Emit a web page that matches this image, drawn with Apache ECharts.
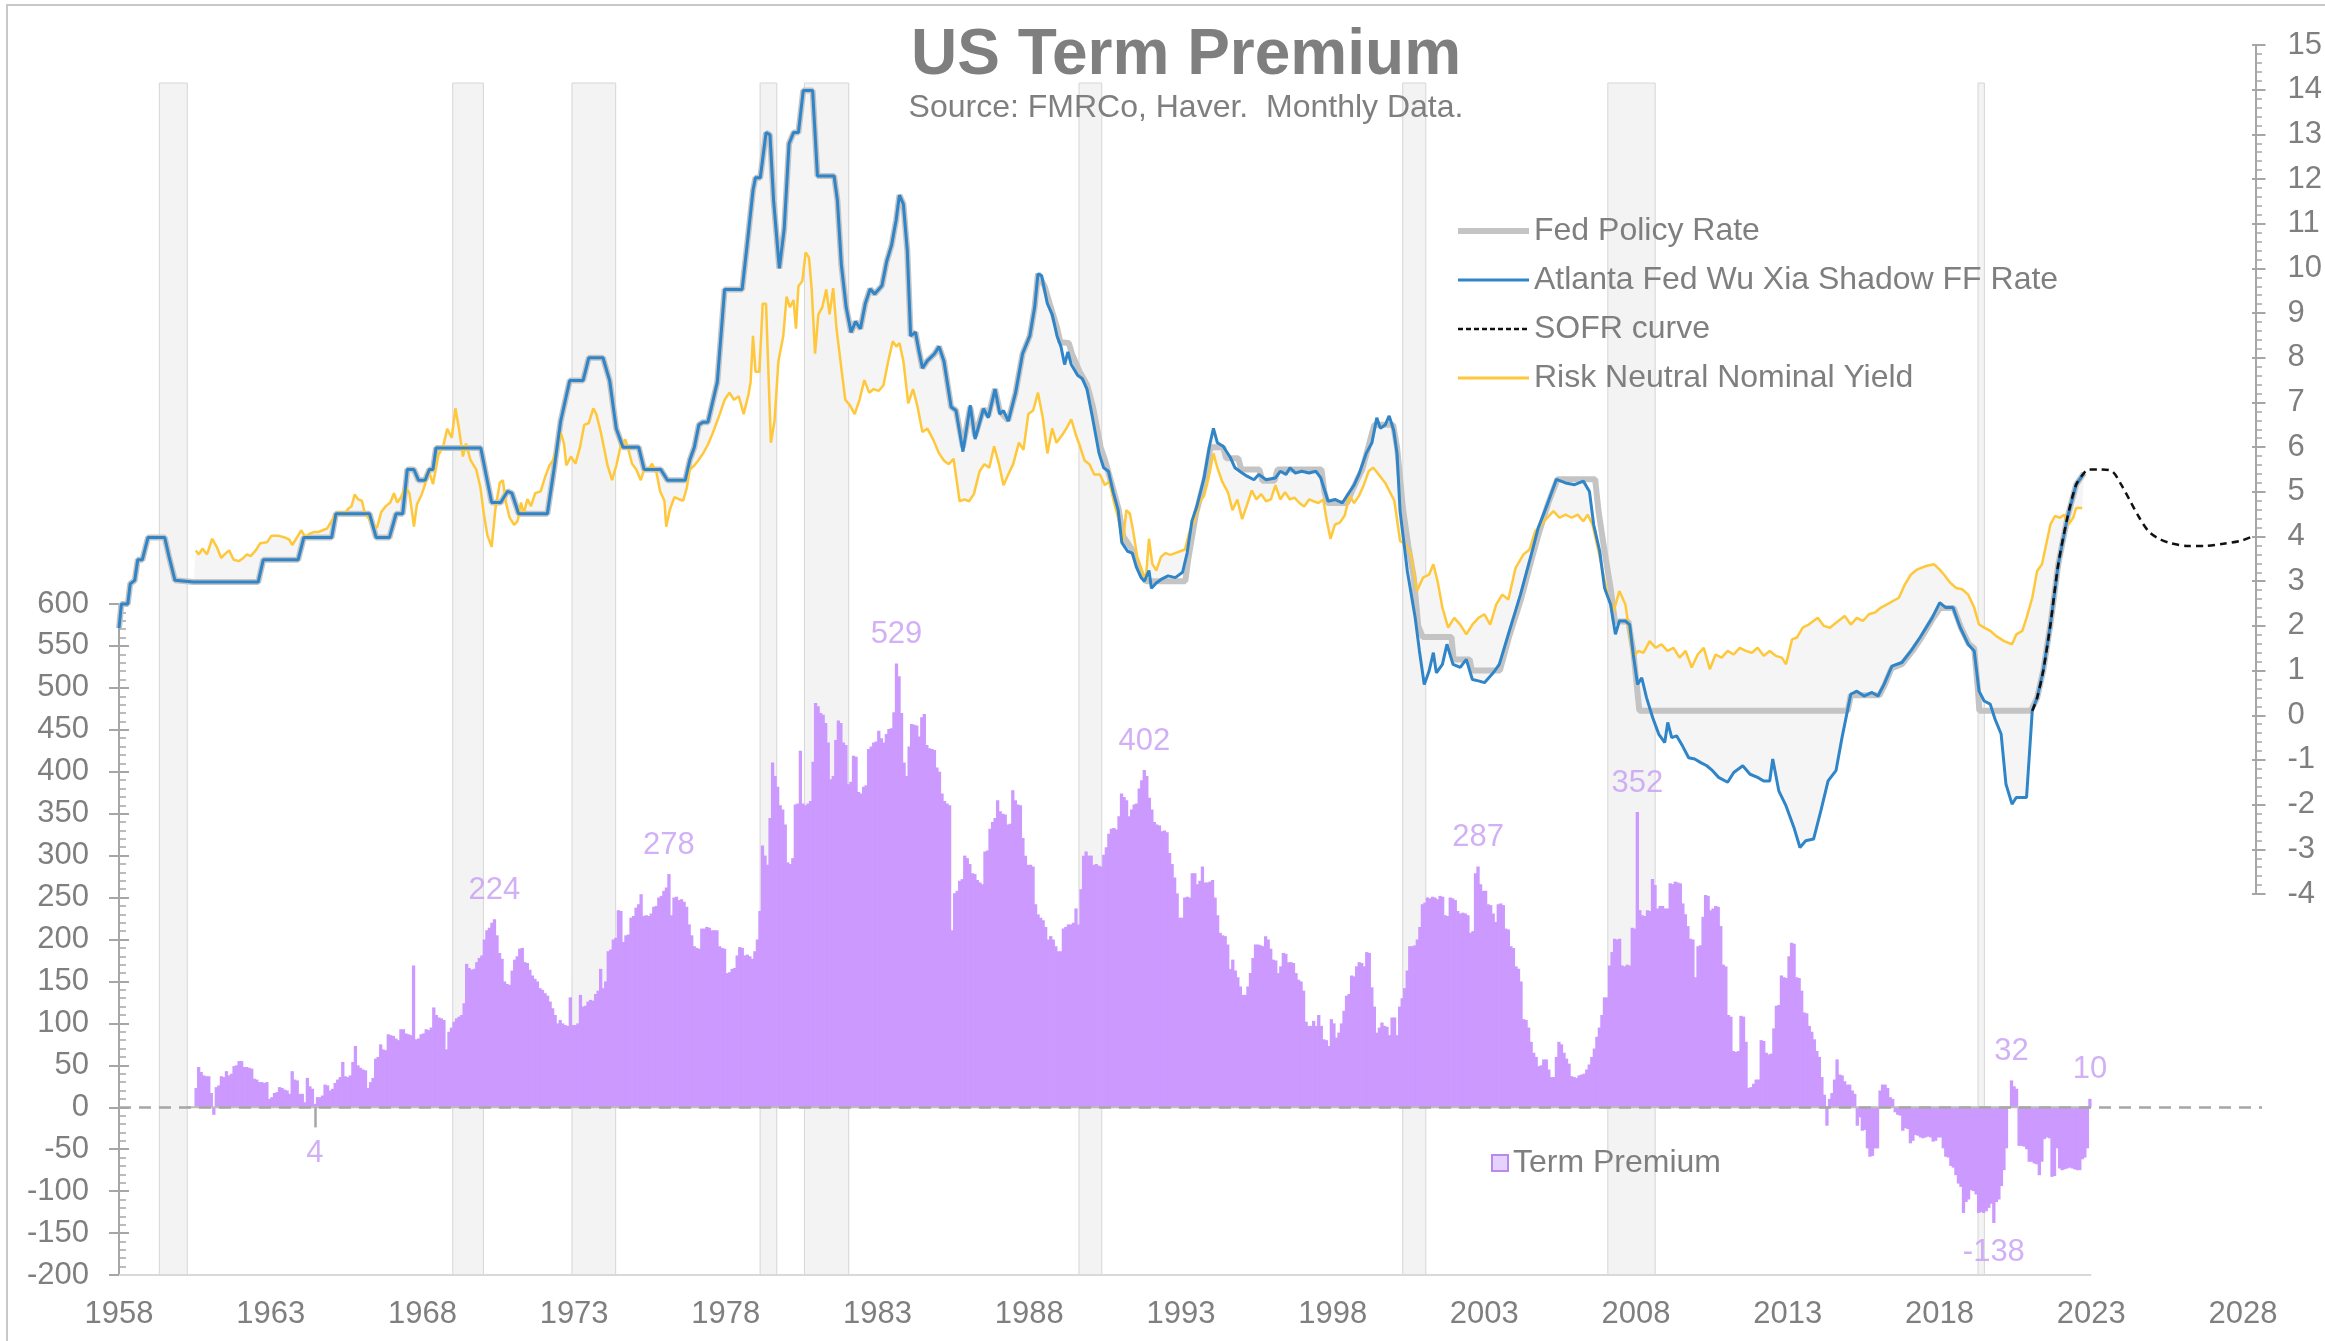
<!DOCTYPE html>
<html>
<head>
<meta charset="utf-8">
<script src="https://cdn.jsdelivr.net/npm/echarts@6/dist/echarts.min.js"></script>
<style>html,body{margin:0;padding:0;background:#fff}#chart{width:2325px;height:1341px}</style>
</head>
<body>
<div id="chart"></div>
<script>
// ---------------- axes / ticks ----------------
const X0 = 1958;                 // first year on the axis
const X_MAX = 70.63;             // axis span in years (to the right axis)
const yearTickLabels = [1958,1963,1968,1973,1978,1983,1988,1993,1998,2003,2008,2013,2018,2023,2028];
const rightAxisRange = [-4, 15, 1];
const leftAxisRange = [-200, 600, 50];
const barsAxisSpan = [1958, 2023];
const barsBaselineSpan = [1960.27, 2023.0];

// ---------------- recession bands ----------------
const recessionStarts = [1959.33, 1969.00, 1972.93, 1979.13, 1980.59, 1989.64, 2000.31, 2007.07, 2019.27];
const recessionEnds   = [1960.25, 1970.01, 1974.37, 1979.68, 1982.05, 1990.39, 2001.07, 2008.63, 2019.48];

// ---------------- term premium (bp), monthly from Jul 1960 ----------------
const termPremiumFirstYear = 1960;
const termPremiumFirstMonth = 7;
const termPremium = [
  23,48,42,38,37,37,                                   // 1960 Jul-Dec
  17,-9,24,26,37,36,43,38,40,49,50,55,                 // 1961
  55,48,48,47,46,34,33,30,30,29,30,10,                 // 1962
  12,17,18,24,23,21,20,16,43,33,32,16,                 // 1963
  16,6,35,25,22,4,12,12,14,27,26,20,                   // 1964
  22,29,33,36,54,37,36,38,54,73,50,47,                 // 1965
  45,44,23,30,35,58,60,75,69,68,87,86,                 // 1966
  85,82,80,93,93,88,87,86,169,81,82,87,                // 1967
  88,93,92,95,119,110,107,106,104,69,90,95,            // 1968
  102,106,108,110,124,171,166,164,165,173,178,181,     // 1969
  200,211,214,220,224,205,184,177,150,147,146,163,     // 1970
  176,180,189,190,173,172,164,157,153,150,142,140,     // 1971
  136,133,126,118,110,100,104,100,98,97,131,98,        // 1972
  98,100,134,120,121,126,128,127,135,139,165,142,      // 1973
  150,186,188,200,202,235,234,197,205,206,226,228,     // 1974
  238,242,254,228,229,228,231,239,240,250,252,258,     // 1975
  262,278,229,250,251,247,248,245,239,218,205,192,     // 1976
  190,189,213,213,215,214,211,211,211,192,190,189,     // 1977
  160,161,165,166,181,191,190,181,182,180,177,186,     // 1978
  200,234,312,300,289,345,411,395,382,360,355,337,     // 1979
  292,290,297,361,362,425,362,360,362,365,412,482,     // 1980
  478,470,468,458,435,391,395,438,461,458,435,432,     // 1981
  385,388,419,418,376,374,382,384,427,430,435,436,     // 1982
  449,440,435,445,451,452,471,529,514,470,411,395,     // 1983
  430,457,456,455,442,465,469,432,428,427,426,405,     // 1984
  400,374,365,362,360,211,255,258,270,272,300,297,     // 1985
  290,279,278,271,268,266,305,306,332,340,345,366,     // 1986
  353,350,349,337,338,378,366,361,360,321,300,289,     // 1987
  289,287,242,230,226,223,215,200,204,200,192,186,     // 1988
  186,213,215,218,218,220,237,218,260,300,305,300,     // 1989
  300,289,290,288,287,301,310,326,332,333,331,347,     // 1990
  374,370,366,347,355,361,362,380,390,402,395,369,     // 1991
  355,340,337,336,329,330,328,303,290,274,255,226,     // 1992
  226,250,251,250,279,279,266,270,287,268,268,269,     // 1993
  271,250,229,208,205,204,194,165,176,163,155,144,     // 1994
  134,134,144,160,178,194,194,193,192,204,200,189,     // 1995
  176,175,160,168,184,183,173,173,172,160,152,150,     // 1996
  139,102,97,97,103,97,110,97,81,80,73,105,            // 1997
  100,83,89,100,115,133,135,157,156,168,173,172,       // 1998
  168,185,184,143,120,89,95,101,97,96,86,107,          // 1999
  107,86,120,130,142,163,192,192,193,200,215,242,      // 2000
  244,250,249,251,250,248,252,251,229,228,250,249,     // 2001
  247,234,231,232,231,229,208,210,279,287,266,258,     // 2002
  258,242,241,231,221,242,243,241,213,212,192,190,     // 2003
  168,165,150,105,104,95,78,65,60,49,50,57,            // 2004
  57,45,36,36,60,78,75,65,58,52,37,36,                 // 2005
  35,38,39,40,45,51,60,70,84,95,110,131,               // 2006
  131,169,185,201,200,201,169,168,170,169,214,213,     // 2007
  352,235,229,228,235,234,272,265,237,240,240,237,     // 2008
  237,267,266,269,268,267,243,230,216,201,200,155,     // 2009
  192,193,227,253,252,235,237,240,239,216,170,168,     // 2010
  110,108,67,66,67,109,108,78,23,24,28,33,             // 2011
  33,80,79,65,63,64,94,121,122,157,155,154,            // 2012
  180,196,195,155,154,139,113,112,97,90,81,67,         // 2013
  60,36,15,-22,10,17,33,57,39,38,31,27,                // 2014
  27,20,16,-22,-12,-28,-27,-49,-59,-58,-49,-49,        // 2015
  20,27,27,23,12,10,-6,-9,-10,-28,-25,-26,             // 2016
  -43,-40,-33,-34,-36,-37,-36,-35,-36,-41,-40,-36,     // 2017
  -36,-49,-59,-60,-70,-72,-81,-91,-95,-126,-113,-110,  // 2018
  -99,-100,-104,-126,-125,-126,-124,-120,-115,-138,-113,-110, // 2019
  -94,-75,-49,-1,32,25,22,-46,-46,-47,-50,-65,         // 2020
  -65,-67,-68,-81,-65,-38,-36,-37,-83,-82,-49,-73,     // 2021
  -75,-74,-73,-72,-73,-74,-75,-75,-62,-60,-49,10       // 2022
];
const labelledMonths = ['1964-06','1970-05','1976-02','1983-08','1991-10','2002-10','2008-01','2019-10','2020-05','2022-12'];
const labelBelowMonths = ['1964-06','2019-10'];
const leaderMonths = ['1964-06'];

// ---------------- rates (%), [year, value] vertices ----------------
const shadowRate = [
[1958.0,1.95],[1958.08,2.49],[1958.29,2.49],[1958.37,2.94],[1958.52,3.02],[1958.62,3.48],[1958.77,3.48],[1958.96,3.98],[1959.51,3.98],[1959.65,3.56],[1959.85,3.02],[1960.46,2.98],[1962.6,2.98],[1962.77,3.48],[1963.92,3.48],[1964.11,3.98],[1965.03,3.98],[1965.17,4.51],[1966.28,4.51],[1966.5,3.98],[1966.94,3.98],[1967.16,4.51],[1967.38,4.51],[1967.53,5.5],[1967.75,5.5],[1967.9,5.26],[1968.12,5.26],[1968.26,5.5],[1968.38,5.5],[1968.48,5.98],[1969.96,5.98],[1970.1,5.5],[1970.32,4.76],[1970.62,4.76],[1970.84,5.01],[1970.99,4.97],[1971.21,4.51],[1972.16,4.51],[1972.38,5.5],[1972.6,6.58],[1972.9,7.49],[1973.34,7.49],[1973.53,8.0],[1974.0,8.0],[1974.22,7.49],[1974.44,6.41],[1974.66,6.0],[1975.18,6.0],[1975.36,5.5],[1975.91,5.5],[1976.13,5.26],[1976.72,5.26],[1976.87,5.71],[1977.02,6.0],[1977.17,6.5],
[1977.31,6.56],[1977.47,6.56],[1977.78,7.46],[1978.02,9.53],[1978.6,9.53],[1978.77,10.56],[1978.96,11.75],[1979.04,12.03],[1979.2,12.03],[1979.39,13.04],[1979.52,12.99],[1979.64,11.52],[1979.83,10.0],[1979.99,10.88],[1980.15,12.79],[1980.3,13.04],[1980.46,13.04],[1980.62,13.98],[1980.93,13.98],[1981.09,12.07],[1981.64,12.07],[1981.75,11.52],[1981.88,10.08],[1982.04,9.13],[1982.2,8.57],[1982.35,8.81],[1982.51,8.65],[1982.67,9.21],[1982.83,9.54],[1982.98,9.43],[1983.22,9.61],[1983.38,10.16],[1983.54,10.52],[1983.69,11.08],[1983.8,11.64],[1983.93,11.44],[1984.06,10.4],[1984.17,8.49],[1984.33,8.57],[1984.44,8.17],[1984.56,7.77],[1984.72,7.93],[1984.96,8.09],[1985.11,8.25],[1985.27,7.93],[1985.51,6.9],[1985.67,6.82],[1985.9,5.9],[1986.14,6.94],[1986.3,6.18],[1986.58,6.86],[1986.74,6.66],[1986.96,7.3],[1987.12,6.74],[1987.24,6.82],[1987.4,6.58],[1987.64,7.22],[1987.87,8.09],[1988.11,8.49],[1988.27,9.13],[1988.38,9.88],[1988.5,9.84],[1988.69,9.21],[1988.85,8.97],[1989.01,8.49],[1989.14,8.25],[1989.26,7.85],[1989.37,8.13],[1989.48,7.85],[1989.69,7.61],[1989.85,7.53],[1990.0,7.3],[1990.16,6.74],[1990.4,5.86],[1990.55,5.54],[1990.71,5.46],[1990.87,4.99],[1991.03,4.59],[1991.15,3.87],[1991.34,3.67],[1991.5,3.63],[1991.63,3.32],[1991.79,3.08],[1991.9,3.0],[1992.05,3.24],[1992.13,2.84],[1992.29,2.96],[1992.45,3.04],[1992.68,3.12],[1992.92,3.08],[1993.16,3.2],[1993.31,3.63],[1993.47,4.35],[1993.63,4.67],[1993.87,5.31],[1994.06,6.06],[1994.18,6.42],[1994.31,6.1],[1994.5,6.02],[1994.73,5.78],[1994.89,5.54],[1995.13,5.42],[1995.29,5.35],[1995.52,5.27],[1995.68,5.39],[1995.92,5.27],[1996.23,5.31],[1996.39,5.46],[1996.58,5.39],[1996.71,5.54],[1996.89,5.42],[1997.1,5.46],[1997.34,5.42],[1997.57,5.46],[1997.73,5.31],[1997.97,4.79],[1998.2,4.83],[1998.44,4.75],[1998.63,4.95],[1998.83,5.15],[1998.99,5.39],[1999.23,5.86],[1999.42,6.1],[1999.58,6.66],[1999.7,6.42],[1999.86,6.5],[1999.99,6.7],[2000.14,6.38],[2000.25,5.86],
[2000.35,4.57],[2000.59,3.23],[2000.85,2.18],[2000.99,1.44],[2001.15,0.69],[2001.31,0.99],[2001.45,1.4],[2001.55,0.95],[2001.75,1.14],[2001.9,1.59],[2002.1,1.14],[2002.34,1.07],[2002.54,1.25],[2002.74,0.8],[2002.94,0.77],[2003.14,0.73],[2003.43,0.95],[2003.63,1.14],[2003.93,1.81],[2004.33,2.7],[2004.69,3.6],[2004.92,4.2],[2005.22,4.72],[2005.52,5.28],[2005.82,5.2],[2006.12,5.16],[2006.41,5.24],[2006.61,5.01],[2006.75,4.27],[2006.95,3.67],[2007.11,2.85],[2007.31,2.48],[2007.47,1.81],[2007.6,2.11],[2007.8,2.11],[2007.94,2.03],[2008.06,1.36],[2008.2,0.69],[2008.34,0.84],[2008.5,0.39],[2008.7,-0.05],[2008.9,-0.42],[2009.1,-0.61],[2009.2,-0.16],[2009.33,-0.5],[2009.49,-0.46],[2009.69,-0.69],[2009.89,-0.95],[2010.09,-0.98],[2010.29,-1.06],[2010.49,-1.13],[2010.68,-1.24],[2010.88,-1.39],[2011.18,-1.5],[2011.38,-1.28],[2011.68,-1.13],[2011.92,-1.32],[2012.17,-1.39],[2012.37,-1.47],[2012.57,-1.47],[2012.67,-0.98],[2012.87,-1.69],[2013.11,-2.03],[2013.37,-2.51],[2013.57,-2.96],[2013.76,-2.81],[2014.02,-2.77],[2014.26,-2.14],[2014.5,-1.47],[2014.76,-1.24],[2014.96,-0.5],[2015.25,0.47],[2015.45,0.54],[2015.69,0.43],[2015.95,0.51],[2016.15,0.43],[2016.35,0.69],[2016.61,1.1],[2016.94,1.18],[2017.24,1.44],[2017.54,1.74],[2017.94,2.18],[2018.19,2.52],[2018.39,2.41],[2018.63,2.41],[2018.87,1.96],[2019.13,1.59],[2019.33,1.44],[2019.49,0.54],[2019.66,0.32],[2019.86,0.25],[2020.02,-0.09],[2020.22,-0.42],[2020.38,-1.54],[2020.58,-1.99],[2020.72,-1.84],[2020.92,-1.84],[2021.06,-1.84],[2021.25,0.1],[2021.41,0.39],[2021.61,0.99],[2021.85,2.03],[2022.11,3.38],[2022.41,4.42],[2022.7,5.16],[2022.96,5.42]
];

const fedPolicyRate = [
[1958.0,1.95],[1958.08,2.49],[1958.29,2.49],[1958.37,2.94],[1958.52,3.02],[1958.62,3.48],[1958.77,3.48],[1958.96,3.98],[1959.51,3.98],[1959.65,3.56],[1959.85,3.02],[1960.46,2.98],[1962.6,2.98],[1962.77,3.48],[1963.92,3.48],[1964.11,3.98],[1965.03,3.98],[1965.17,4.51],[1966.28,4.51],[1966.5,3.98],[1966.94,3.98],[1967.16,4.51],[1967.38,4.51],[1967.53,5.5],[1967.75,5.5],[1967.9,5.26],[1968.12,5.26],[1968.26,5.5],[1968.38,5.5],[1968.48,5.98],[1969.96,5.98],[1970.1,5.5],[1970.32,4.76],[1970.62,4.76],[1970.84,5.01],[1970.99,4.97],[1971.21,4.51],[1972.16,4.51],[1972.38,5.5],[1972.6,6.58],[1972.9,7.49],[1973.34,7.49],[1973.53,8.0],[1974.0,8.0],[1974.22,7.49],[1974.44,6.41],[1974.66,6.0],[1975.18,6.0],[1975.36,5.5],[1975.91,5.5],[1976.13,5.26],[1976.72,5.26],[1976.87,5.71],[1977.02,6.0],[1977.17,6.5],
[1977.31,6.56],[1977.47,6.56],[1977.78,7.46],[1978.02,9.53],[1978.6,9.53],[1978.77,10.56],[1978.96,11.75],[1979.04,12.03],[1979.2,12.03],[1979.39,13.04],[1979.52,12.99],[1979.64,11.52],[1979.83,10.0],[1979.99,10.88],[1980.15,12.79],[1980.3,13.04],[1980.46,13.04],[1980.62,13.98],[1980.93,13.98],[1981.09,12.07],[1981.64,12.07],[1981.75,11.52],[1981.88,10.08],[1982.04,9.13],[1982.2,8.57],[1982.35,8.81],[1982.51,8.65],[1982.67,9.21],[1982.83,9.54],[1982.98,9.43],[1983.22,9.61],[1983.38,10.16],[1983.54,10.52],[1983.69,11.08],[1983.8,11.64],[1983.93,11.44],[1984.06,10.4],[1984.17,8.49],[1984.33,8.57],[1984.44,8.17],[1984.56,7.77],[1984.72,7.93],[1984.96,8.09],[1985.11,8.25],[1985.27,7.93],[1985.51,6.9],[1985.67,6.82],[1985.9,6.0],[1986.14,6.9],[1986.3,6.25],[1986.58,6.86],[1986.74,6.7],[1986.96,7.3],[1987.12,6.8],[1987.4,6.6],[1987.64,7.22],[1987.87,8.09],[1988.11,8.49],[1988.27,9.13],[1988.38,9.88],
[1988.6,9.6],[1988.75,9.25],[1989.0,8.7],[1989.12,8.35],[1989.4,8.33],[1989.5,8.1],[1989.75,7.7],[1990.0,7.4],[1990.2,6.9],[1990.45,6.0],[1990.6,5.7],[1990.85,5.1],[1991.05,4.6],[1991.2,4.0],[1991.5,3.7],[1991.8,3.15],[1991.95,3.0],[1993.25,3.0],[1993.35,3.5],[1993.6,4.5],[1993.9,5.3],[1994.08,6.0],[1994.5,6.0],[1994.6,5.75],[1995.0,5.75],[1995.1,5.5],[1995.7,5.5],[1995.8,5.25],[1996.2,5.25],[1996.3,5.5],[1997.75,5.5],[1997.85,5.0],[1997.95,4.75],[1998.6,4.75],[1998.75,5.0],[1998.92,5.25],[1999.1,5.5],[1999.3,6.0],[1999.5,6.5],[2000.12,6.5],[2000.25,6.0],[2000.45,4.6],[2000.62,3.8],[2000.8,3.1],[2000.95,2.0],[2001.1,1.75],[2002.05,1.75],[2002.12,1.25],[2002.65,1.25],[2002.72,1.0],[2003.65,1.0],[2003.95,1.75],[2004.35,2.6],[2004.7,3.5],[2004.95,4.1],[2005.25,4.75],[2005.55,5.28],[2006.8,5.28],[2006.91,4.57],[2007.11,3.67],[2007.31,2.85],[2007.45,2.1],[2007.9,2.1],[2008.06,1.44],[2008.26,0.1],[2015.15,0.1],[2015.25,0.45],[2016.2,0.45],[2016.35,0.65],[2016.6,1.05],[2016.95,1.15],[2017.3,1.45],[2017.6,1.75],[2017.95,2.15],[2018.2,2.4],[2018.65,2.4],[2018.9,1.95],[2019.15,1.6],[2019.33,1.5],[2019.45,0.6],[2019.5,0.1],[2021.2,0.1],[2021.41,0.39],[2021.61,0.99],[2021.85,2.03],[2022.11,3.38],[2022.41,4.42],[2022.7,5.16],[2022.96,5.42]
];

const sofrCurve = [
[2021.25,0.1],[2021.41,0.39],[2021.61,0.99],[2021.85,2.03],[2022.11,3.38],[2022.41,4.42],[2022.7,5.16],[2022.96,5.42],[2023.1,5.5],[2023.5,5.5],[2023.89,5.46],[2024.19,5.16],[2024.49,4.79],[2024.79,4.42],[2025.09,4.12],[2025.38,3.97],[2025.78,3.86],[2026.38,3.79],[2026.97,3.79],[2027.57,3.84],[2028.17,3.91],[2028.56,4.01]
];

const riskNeutralYield = [
[1960.54,3.69],[1960.64,3.6],[1960.76,3.73],[1960.91,3.6],[1961.08,3.95],[1961.23,3.77],[1961.38,3.52],[1961.49,3.6],[1961.64,3.69],[1961.79,3.48],[1961.97,3.45],[1962.11,3.52],[1962.23,3.6],[1962.35,3.56],[1962.52,3.69],[1962.67,3.85],[1962.89,3.87],[1963.04,4.02],[1963.26,4.02],[1963.48,3.98],[1963.63,3.93],[1963.73,3.81],[1963.92,4.02],[1964.02,4.14],[1964.17,3.98],[1964.29,4.06],[1964.44,4.1],[1964.58,4.1],[1964.73,4.14],[1964.88,4.18],[1965.03,4.35],[1965.17,4.51],[1965.32,4.55],[1965.44,4.47],[1965.56,4.61],[1965.69,4.68],[1965.79,4.94],[1965.91,4.83],[1966.03,4.8],[1966.13,4.51],[1966.28,4.39],[1966.42,4.22],[1966.53,4.2],[1966.67,4.55],[1966.82,4.68],[1966.97,4.76],[1967.09,4.97],[1967.2,4.76],[1967.32,4.88],[1967.47,5.11],[1967.6,4.97],[1967.75,4.22],[1967.85,4.72],[1968.0,4.93],[1968.12,5.17],[1968.23,5.5],[1968.38,5.17],[1968.56,5.83],[1968.71,6.0],[1968.85,6.41],[1969.0,6.21],[1969.12,6.87],[1969.23,6.45],[1969.37,5.79],[1969.47,6.08],[1969.62,5.71],[1969.81,5.5],[1969.95,5.09],[1970.06,4.51],[1970.18,4.02],[1970.32,3.77],[1970.44,4.6],[1970.59,5.21],[1970.69,5.26],[1970.79,4.76],[1970.91,4.43],[1971.06,4.26],[1971.18,4.35],[1971.29,4.76],[1971.38,4.51],[1971.5,4.84],[1971.62,4.68],[1971.76,4.97],[1971.94,5.01],[1972.09,5.34],[1972.23,5.59],[1972.35,5.71],[1972.5,6.04],[1972.6,6.33],[1972.71,6.08],[1972.79,5.59],[1972.94,5.79],[1973.09,5.63],[1973.24,6.0],[1973.38,6.5],[1973.53,6.54],[1973.68,6.87],[1973.78,6.74],[1973.93,6.33],[1974.03,6.0],[1974.15,5.59],[1974.3,5.26],[1974.44,5.59],[1974.59,6.04],[1974.74,6.17],[1974.85,5.92],[1974.96,5.63],[1975.1,5.5],[1975.25,5.26],[1975.36,5.5],[1975.5,5.5],[1975.62,5.63],[1975.77,5.42],[1975.89,5.01],[1976.03,4.8],[1976.09,4.22],[1976.21,4.6],[1976.36,4.88],[1976.5,4.84],[1976.65,4.8],[1976.77,5.09],[1976.87,5.5],[1977.02,5.59],
[1977.15,5.7],[1977.31,5.86],[1977.47,6.06],[1977.62,6.3],[1977.86,6.74],[1978.02,7.06],[1978.18,7.22],[1978.33,7.06],[1978.49,7.14],[1978.65,6.74],[1978.81,7.18],[1978.88,7.46],[1978.96,8.49],[1979.04,7.69],[1979.17,7.69],[1979.28,9.21],[1979.39,9.21],[1979.55,6.1],[1979.67,6.58],[1979.8,7.93],[1979.96,8.49],[1980.07,9.37],[1980.18,9.13],[1980.3,9.29],[1980.38,8.65],[1980.46,9.6],[1980.59,9.72],[1980.7,10.36],[1980.81,10.24],[1980.9,9.53],[1981.01,8.09],[1981.12,8.97],[1981.25,9.13],[1981.38,9.53],[1981.49,8.97],[1981.61,9.56],[1981.72,8.65],[1981.88,7.77],[1982.01,7.06],[1982.16,6.94],[1982.32,6.74],[1982.48,7.06],[1982.64,7.5],[1982.8,7.22],[1982.95,7.3],[1983.11,7.26],[1983.27,7.38],[1983.43,7.93],[1983.58,8.37],[1983.7,8.25],[1983.8,8.33],[1983.93,7.93],[1984.09,6.98],[1984.25,7.3],[1984.4,6.9],[1984.56,6.34],[1984.72,6.42],[1984.91,6.18],[1985.11,5.86],[1985.27,5.7],[1985.43,5.62],[1985.59,5.74],[1985.79,4.79],[1985.95,4.83],[1986.1,4.79],[1986.26,4.95],[1986.45,5.46],[1986.61,5.62],[1986.77,5.54],[1986.93,6.02],[1987.09,5.62],[1987.24,5.15],[1987.37,5.35],[1987.56,5.62],[1987.75,6.1],[1987.9,5.94],[1988.06,6.74],[1988.22,6.82],[1988.38,7.22],[1988.54,6.66],[1988.69,5.86],[1988.85,6.42],[1988.99,6.1],[1989.17,6.26],[1989.32,6.42],[1989.48,6.62],[1989.64,6.26],[1989.77,6.02],[1989.92,5.7],[1990.08,5.62],[1990.24,5.39],[1990.43,5.39],[1990.59,5.15],[1990.74,5.23],[1990.9,4.75],[1991.03,4.43],[1991.19,3.87],[1991.3,4.59],[1991.42,4.51],[1991.53,4.11],[1991.66,3.55],[1991.82,3.24],[1991.94,3.0],[1992.05,3.95],[1992.16,3.39],[1992.29,3.24],[1992.45,3.55],[1992.6,3.63],[1992.76,3.59],[1992.92,3.63],[1993.08,3.67],[1993.24,3.71],[1993.39,4.11],[1993.55,4.35],[1993.71,4.75],[1993.87,4.91],[1994.02,5.31],[1994.18,5.86],[1994.31,5.54],[1994.47,5.23],[1994.66,4.99],[1994.81,4.59],[1994.97,4.83],[1995.13,4.39],[1995.29,4.71],[1995.45,5.03],[1995.6,4.83],[1995.76,4.95],[1995.92,4.79],[1996.08,4.83],[1996.23,5.15],[1996.39,4.83],[1996.55,4.99],[1996.71,4.83],[1996.86,4.87],[1997.02,4.75],[1997.18,4.67],[1997.34,4.83],[1997.49,4.79],[1997.65,4.75],[1997.81,4.83],[1997.93,4.35],[1998.05,3.95],[1998.2,4.27],[1998.36,4.31],[1998.52,4.47],[1998.68,4.91],[1998.83,4.75],[1998.99,4.91],[1999.15,5.15],[1999.31,5.46],[1999.46,5.54],
[1999.56,5.46],[1999.86,5.2],[2000.16,4.8],[2000.35,3.9],[2000.51,3.84],[2000.71,3.6],[2000.91,2.78],[2001.11,3.08],[2001.31,3.15],[2001.45,3.38],[2001.59,3.0],[2001.75,2.41],[2001.94,1.96],[2002.14,2.18],[2002.34,2.03],[2002.54,1.81],[2002.74,2.03],[2002.94,2.18],[2003.14,2.26],[2003.33,2.03],[2003.53,2.48],[2003.73,2.7],[2003.93,2.59],[2004.17,3.3],[2004.43,3.6],[2004.63,3.71],[2004.82,4.12],[2005.02,4.27],[2005.22,4.42],[2005.42,4.57],[2005.62,4.42],[2005.82,4.49],[2006.02,4.42],[2006.22,4.49],[2006.41,4.34],[2006.55,4.49],[2006.71,4.27],[2006.91,3.67],[2007.07,3.15],[2007.21,2.7],[2007.41,2.33],[2007.6,2.78],[2007.8,2.48],[2007.94,1.81],[2008.06,1.29],[2008.22,1.44],[2008.4,1.4],[2008.6,1.66],[2008.8,1.51],[2008.99,1.59],[2009.19,1.44],[2009.39,1.51],[2009.59,1.29],[2009.79,1.44],[2009.99,1.07],[2010.19,1.36],[2010.39,1.51],[2010.59,1.03],[2010.78,1.36],[2010.98,1.29],[2011.18,1.44],[2011.38,1.36],[2011.58,1.51],[2011.78,1.44],[2011.98,1.4],[2012.17,1.51],[2012.37,1.33],[2012.57,1.44],[2012.77,1.33],[2012.97,1.29],[2013.11,1.14],[2013.31,1.7],[2013.47,1.74],[2013.66,1.96],[2013.86,2.03],[2014.16,2.18],[2014.36,2.0],[2014.56,1.96],[2014.76,2.07],[2015.05,2.22],[2015.25,2.03],[2015.45,2.18],[2015.65,2.11],[2015.85,2.26],[2016.05,2.3],[2016.25,2.41],[2016.55,2.52],[2016.84,2.63],[2017.04,2.93],[2017.24,3.15],[2017.44,3.26],[2017.74,3.34],[2018.0,3.38],[2018.19,3.26],[2018.33,3.15],[2018.53,2.97],[2018.73,2.85],[2018.93,2.82],[2019.13,2.7],[2019.33,2.41],[2019.49,2.03],[2019.66,1.96],[2019.86,1.89],[2020.06,1.77],[2020.32,1.66],[2020.58,1.59],[2020.72,1.81],[2020.92,1.89],[2021.06,2.18],[2021.25,2.63],[2021.41,3.23],[2021.57,3.38],[2021.71,3.82],[2021.85,4.27],[2022.0,4.46],[2022.17,4.42],[2022.3,4.49],[2022.45,4.27],[2022.6,4.42],[2022.7,4.64],[2022.9,4.64]
];

// ---------------- build ----------------
const FONT = "'Liberation Sans', Arial, Helvetica, sans-serif";
const GREY_TEXT = '#7f7f7f';
const AXIS_GREY = '#a6a6a6';
const PURPLE = '#cc99ff';
const PURPLE_TEXT = '#c59cf4';
const C_FED = '#c4c4c4', C_SHADOW = '#2f85c8', C_SOFR = '#111111', C_RN = '#ffc73a';
const toXY = arr => arr.map(p => [+(p[0] - X0).toFixed(4), p[1]]);

const barData = [];
const barLabels = [];
let leaderX = null;
termPremium.forEach((v, i) => {
  const idx = termPremiumFirstYear * 12 + (termPremiumFirstMonth - 1) + i;
  const yr = Math.floor(idx / 12), mo = idx % 12 + 1;
  const key = yr + '-' + String(mo).padStart(2, '0');
  const x = yr + (mo - 1) / 12 + 1 / 24 - X0;
  barData.push([x, v]);
  if (labelledMonths.includes(key)) {
    const below = labelBelowMonths.includes(key);
    const isLeader = leaderMonths.includes(key);
    if (isLeader) leaderX = x;
    barLabels.push({
      value: [x, isLeader ? 0 : v],
      label: { show: true, formatter: String(v), position: below ? 'bottom' : 'top', distance: isLeader ? 30 : 13 }
    });
  }
});

const chart = echarts.init(document.getElementById('chart'), null, { renderer: 'canvas' });

const LINES_GRID = { left: 119, right: 63, top: 45, bottom: 447 };
const BARS_GRID = { left: 119, right: 63, top: 604, bottom: 66 };
const hiddenX = (g) => ({ gridIndex: g, type: 'value', min: 0, max: X_MAX, show: false, axisLine: { onZero: false } });
const tickStyle = { color: AXIS_GREY, width: 2 };

const option = {
  animation: false,
  backgroundColor: '#ffffff',
  textStyle: { fontFamily: FONT },
  graphic: [
    { type: 'rect', silent: true, z: 100, shape: { x: 7, y: 5, width: 2330, height: 1350 }, style: { fill: null, stroke: '#c8c8c8', lineWidth: 2 } },
    { type: 'text', silent: true, z: 100, x: 1186, y: 56, style: { text: 'US Term Premium', fontFamily: FONT, fontWeight: 'bold', fontSize: 64, fill: GREY_TEXT, textAlign: 'center', textVerticalAlign: 'middle' } },
    { type: 'text', silent: true, z: 100, x: 1186, y: 108, style: { text: 'Source: FMRCo, Haver.  Monthly Data.', fontFamily: FONT, fontSize: 32, fill: GREY_TEXT, textAlign: 'center', textVerticalAlign: 'middle' } }
  ],
  legend: [
    {
      data: [
        { name: 'Fed Policy Rate', lineStyle: { width: 6, color: C_FED } },
        { name: 'Atlanta Fed Wu Xia Shadow FF Rate', lineStyle: { width: 3, color: C_SHADOW } },
        { name: 'SOFR curve', lineStyle: { width: 2.5, color: C_SOFR, type: [5, 3] } },
        { name: 'Risk Neutral Nominal Yield', lineStyle: { width: 3, color: C_RN } }
      ],
      orient: 'vertical', left: 1450, top: 209, itemWidth: 71, itemHeight: 14, itemGap: 15,
      itemStyle: { opacity: 0 },
      textStyle: { fontSize: 32, color: GREY_TEXT, fontFamily: FONT, lineHeight: 34 },
      selectedMode: false
    },
    {
      data: ['Term Premium'], left: 1486, top: 1141, itemWidth: 16, itemHeight: 16, icon: 'rect',
      itemStyle: { color: '#e6d2ff', borderColor: '#b88af0', borderWidth: 2 },
      textStyle: { fontSize: 32, color: GREY_TEXT, fontFamily: FONT, lineHeight: 34 },
      selectedMode: false
    }
  ],
  grid: [
    { left: 119, right: 63, top: 83, bottom: 66 },     // 0 recession bands
    LINES_GRID,                                        // 1 rates
    BARS_GRID,                                         // 2 term premium
    Object.assign({}, LINES_GRID),                     // 3 inner ticks, right axis
    Object.assign({}, BARS_GRID)                       // 4 inner ticks, left axis
  ],
  xAxis: [
    hiddenX(0),
    hiddenX(1),
    {
      gridIndex: 2, type: 'value', min: 0, max: X_MAX, interval: 5,
      axisLine: { show: false, onZero: false }, axisTick: { show: false }, splitLine: { show: false },
      axisLabel: {
        show: true, fontSize: 31, color: GREY_TEXT, fontFamily: FONT, margin: 24, showMaxLabel: false,
        formatter: v => { const y = Math.round(v + X0); return yearTickLabels.includes(y) && Math.abs(v + X0 - y) < 1e-6 ? String(y) : ''; }
      }
    },
    hiddenX(3),
    hiddenX(4)
  ],
  yAxis: [
    { gridIndex: 0, type: 'value', min: 0, max: 1, show: false, axisLine: { onZero: false } },
    {
      gridIndex: 1, type: 'value', position: 'right', min: rightAxisRange[0], max: rightAxisRange[1], interval: rightAxisRange[2],
      axisLine: { show: true, onZero: false, lineStyle: tickStyle },
      axisTick: { show: true, inside: false, length: 10, lineStyle: tickStyle },
      axisLabel: { show: true, margin: 32, fontSize: 31, color: GREY_TEXT, fontFamily: FONT },
      splitLine: { show: false }
    },
    {
      gridIndex: 2, type: 'value', position: 'left', min: leftAxisRange[0], max: leftAxisRange[1], interval: leftAxisRange[2],
      axisLine: { show: true, onZero: false, lineStyle: tickStyle },
      axisTick: { show: true, inside: false, length: 10, lineStyle: tickStyle },
      axisLabel: { show: true, margin: 30, fontSize: 31, color: GREY_TEXT, fontFamily: FONT },
      splitLine: { show: false }
    },
    {
      gridIndex: 3, type: 'value', position: 'right', min: rightAxisRange[0], max: rightAxisRange[1], interval: rightAxisRange[2],
      axisLine: { show: false, onZero: false },
      axisTick: { show: true, inside: true, length: 10, lineStyle: tickStyle },
      minorTick: { show: true, splitNumber: 5, length: 7, lineStyle: { color: AXIS_GREY, width: 1.5 } },
      axisLabel: { show: false }, splitLine: { show: false }
    },
    {
      gridIndex: 4, type: 'value', position: 'left', min: leftAxisRange[0], max: leftAxisRange[1], interval: leftAxisRange[2],
      axisLine: { show: false, onZero: false },
      axisTick: { show: true, inside: true, length: 10, lineStyle: tickStyle },
      minorTick: { show: true, splitNumber: 5, length: 7, lineStyle: { color: AXIS_GREY, width: 1.5 } },
      axisLabel: { show: false }, splitLine: { show: false }
    }
  ],
  series: [
    {
      name: 'recessions', type: 'line', xAxisIndex: 0, yAxisIndex: 0, data: [[0, 0]], symbol: 'none',
      lineStyle: { opacity: 0 }, silent: true, z: 0,
      markArea: {
        silent: true,
        itemStyle: { color: '#f3f3f3', borderColor: '#d6d6d6', borderWidth: 1 },
        data: recessionStarts.map((s, i) => [{ xAxis: s - X0, yAxis: 0 }, { xAxis: recessionEnds[i] - X0, yAxis: 1 }])
      }
    },
    {
      name: 'spread', type: 'custom', xAxisIndex: 1, yAxisIndex: 1, data: [[0, 0]], silent: true, z: 1,
      renderItem: function (params, api) {
        const pts = riskNeutralYield.map(p => api.coord([p[0] - X0, p[1]]));
        const a = riskNeutralYield[0][0], b = riskNeutralYield[riskNeutralYield.length - 1][0];
        const lower = shadowRate.filter(p => p[0] >= a - 0.1 && p[0] <= b + 0.1);
        for (let i = lower.length - 1; i >= 0; i--) pts.push(api.coord([lower[i][0] - X0, lower[i][1]]));
        return { type: 'polygon', shape: { points: pts }, style: { fill: '#f5f5f5' } };
      }
    },
    {
      name: 'axisBottom', type: 'line', xAxisIndex: 2, yAxisIndex: 2, silent: true, symbol: 'none', z: 2,
      data: [[barsAxisSpan[0] - X0, leftAxisRange[0]], [barsAxisSpan[1] - X0, leftAxisRange[0]]],
      lineStyle: { color: '#d9d9d9', width: 2 }
    },
    {
      name: 'Term Premium', type: 'bar', xAxisIndex: 2, yAxisIndex: 2, data: barData, barWidth: 3.3,
      itemStyle: { color: PURPLE }, silent: true, z: 3, large: false,
      markLine: {
        silent: true, symbol: ['none', 'none'], label: { show: false },
        data: [
          { yAxis: 0, lineStyle: { color: AXIS_GREY, width: 2.5, type: [12, 8] } },
          [{ coord: [leaderX, 0], lineStyle: { color: AXIS_GREY, width: 2.5, type: 'solid' } }, { coord: [leaderX, -24] }]
        ]
      }
    },
    {
      name: 'baseline', type: 'line', xAxisIndex: 2, yAxisIndex: 2, silent: true, symbol: 'none', z: 4,
      data: [[barsBaselineSpan[0] - X0, 0], [barsBaselineSpan[1] - X0, 0]],
      lineStyle: { color: '#bdbdbd', width: 2 }
    },
    {
      name: 'barLabels', type: 'scatter', xAxisIndex: 2, yAxisIndex: 2, silent: true, z: 6,
      symbolSize: 1, itemStyle: { color: 'transparent' },
      label: { show: true, color: PURPLE_TEXT, fontSize: 31, fontFamily: FONT },
      data: barLabels
    },
    {
      name: 'Fed Policy Rate', type: 'line', xAxisIndex: 1, yAxisIndex: 1, data: toXY(fedPolicyRate),
      symbol: 'none', lineStyle: { color: C_FED, width: 6 }, itemStyle: { color: C_FED }, z: 5, silent: true
    },
    {
      name: 'Risk Neutral Nominal Yield', type: 'line', xAxisIndex: 1, yAxisIndex: 1, data: toXY(riskNeutralYield),
      symbol: 'none', lineStyle: { color: C_RN, width: 2.5 }, itemStyle: { color: C_RN }, z: 6, silent: true
    },
    {
      name: 'Atlanta Fed Wu Xia Shadow FF Rate', type: 'line', xAxisIndex: 1, yAxisIndex: 1, data: toXY(shadowRate),
      symbol: 'none', lineStyle: { color: C_SHADOW, width: 3 }, itemStyle: { color: C_SHADOW }, z: 7, silent: true
    },
    {
      name: 'SOFR curve', type: 'line', xAxisIndex: 1, yAxisIndex: 1, data: toXY(sofrCurve), smooth: 0.3,
      symbol: 'none', lineStyle: { color: C_SOFR, width: 2.5, type: [7, 5] }, itemStyle: { color: C_SOFR }, z: 8, silent: true
    }
  ]
};
chart.setOption(option);
</script>
</body>
</html>
